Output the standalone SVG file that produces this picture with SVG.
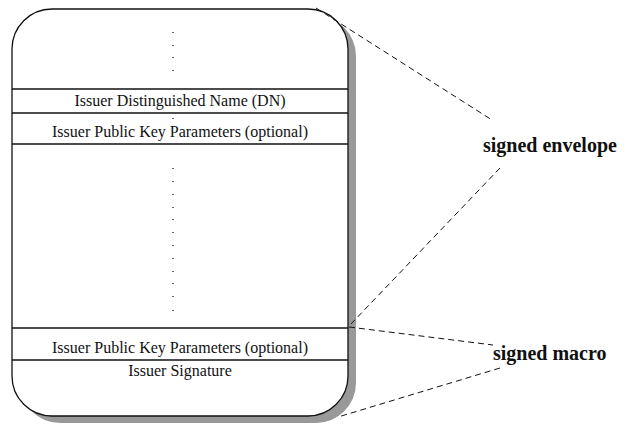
<svg xmlns="http://www.w3.org/2000/svg" width="628" height="424" viewBox="0 0 628 424">
<style>
.body{font-family:"Liberation Serif","Times New Roman",serif;font-size:16px;fill:#111;text-anchor:middle}
.lbl{font-family:"Liberation Serif","Times New Roman",serif;font-size:20px;font-weight:bold;fill:#111}
.sep{stroke:#111;stroke-width:1.3}
.dot{fill:#666}
.con{stroke:#111;stroke-width:1;fill:none;stroke-dasharray:6 4}
</style>
<rect width="628" height="424" fill="#fff"/>
<g id="certificate">
<rect x="20" y="16" width="336" height="407" rx="40" ry="40" fill="#999"/>
<rect x="12" y="9" width="336" height="407" rx="40" ry="40" fill="#fff" stroke="#111" stroke-width="1.3"/>
<line class="sep" x1="12" y1="89" x2="348" y2="89"/>
<line class="sep" x1="12" y1="113" x2="348" y2="113"/>
<line class="sep" x1="12" y1="144" x2="348" y2="144"/>
<line class="sep" x1="12" y1="328" x2="348" y2="328"/>
<line class="sep" x1="12" y1="360" x2="348" y2="360"/>
<text class="body" x="180" y="106">Issuer Distinguished Name (DN)</text>
<text class="body" x="180" y="137">Issuer Public Key Parameters (optional)</text>
<text class="body" x="180" y="353">Issuer Public Key Parameters (optional)</text>
<text class="body" x="180" y="376">Issuer Signature</text>
<g class="dot">
<rect x="172" y="32" width="2" height="1"/>
<rect x="172" y="45" width="2" height="1"/>
<rect x="172" y="57" width="2" height="1"/>
<rect x="172" y="70" width="2" height="1"/>
<rect x="172" y="118" width="2" height="1"/>
<rect x="172" y="168" width="2" height="1"/>
<rect x="172" y="181" width="2" height="1"/>
<rect x="172" y="194" width="2" height="1"/>
<rect x="172" y="207" width="2" height="1"/>
<rect x="172" y="219" width="2" height="1"/>
<rect x="172" y="232" width="2" height="1"/>
<rect x="172" y="245" width="2" height="1"/>
<rect x="172" y="258" width="2" height="1"/>
<rect x="172" y="271" width="2" height="1"/>
<rect x="172" y="283" width="2" height="1"/>
<rect x="172" y="296" width="2" height="1"/>
<rect x="172" y="310" width="2" height="1"/>
</g>
</g>
<g id="connectors">
<line class="con" x1="316" y1="8" x2="492" y2="120"/>
<line class="con" x1="500" y1="168" x2="349" y2="326"/>
<line class="con" x1="349" y1="327" x2="493" y2="345"/>
<line class="con" x1="500" y1="368" x2="338" y2="417"/>
</g>
<g id="signed-envelope">
<text class="lbl" x="483" y="152">signed envelope</text>
</g>
<g id="signed-macro">
<text class="lbl" x="493" y="360">signed macro</text>
</g>
</svg>
